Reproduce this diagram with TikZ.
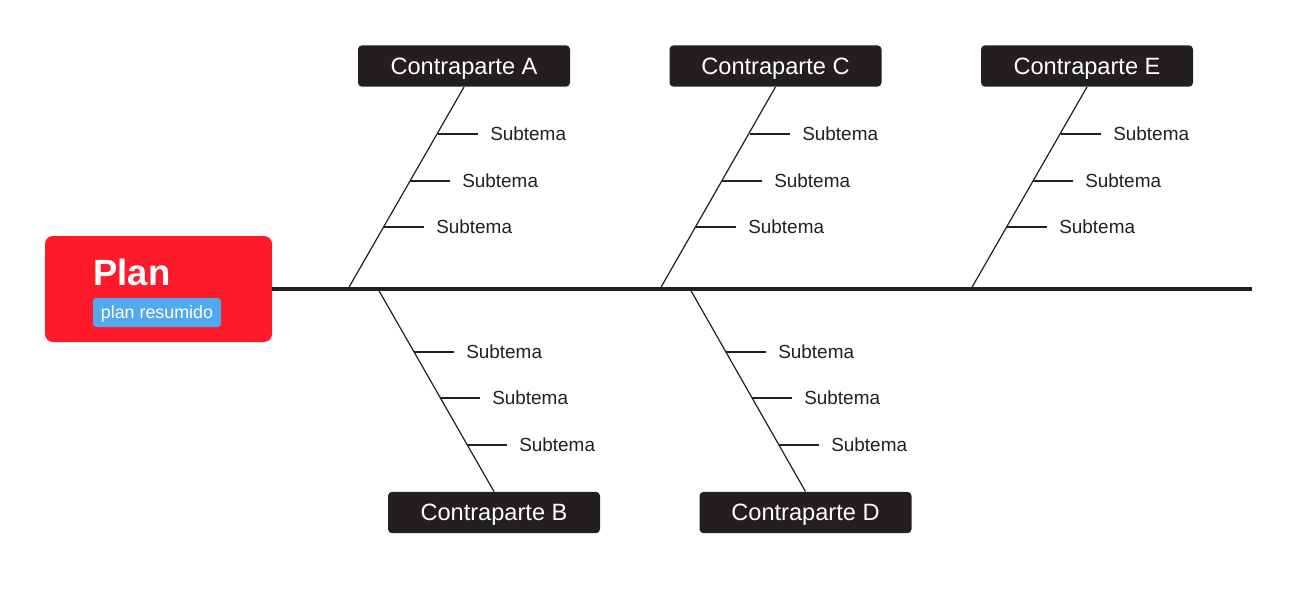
\documentclass[tikz,border=0pt]{standalone}
\usepackage{fontspec}
\setmainfont{Liberation Sans}
\usetikzlibrary{calc}
\definecolor{planred}{HTML}{FF1A2B}
\definecolor{planblue}{HTML}{52A9EE}
\definecolor{boxdark}{HTML}{231F20}
\tikzset{
  cbox/.style={fill=boxdark, rounded corners=3pt, text=white, minimum width=159pt, minimum height=31pt, inner sep=0pt, text height=12.7pt, text depth=0pt, font=\fontsize{17.7}{20}\selectfont},
  sub/.style={anchor=west, inner xsep=9pt, inner ysep=0pt, text height=10.2pt, text depth=0pt, text=boxdark, font=\fontsize{14.2}{16}\selectfont},
  bone/.style={draw=boxdark, line width=0.9pt},
  tick/.style={draw=boxdark, line width=0.9pt},
  spine/.style={draw=boxdark, line width=2.3pt}
}
\begin{document}
\begin{tikzpicture}[x=0.75pt,y=-0.75pt]
\useasboundingbox (0,0) rectangle (1298,594);
% head
\node[fill=planred, rounded corners=6pt, minimum width=170.25pt, minimum height=79.5pt, inner sep=0pt] (plan) at (158.5,289) {};
\node[anchor=base west, inner sep=0pt, text=white, font=\bfseries\fontsize{27.4}{30}\selectfont] (plantitle) at (93,285) {Plan};
\node[fill=planblue, rounded corners=2.5pt, minimum width=96pt, minimum height=21.75pt, inner sep=0pt, text height=9.6pt, text depth=0pt, text=white, font=\fontsize{13.4}{15}\selectfont] (plansub) at (157,312.5) {plan resumido};
% spine
\coordinate (spineend) at (1252,289);
\draw[spine] (plan.east) -- (spineend);
% boxes
\node[cbox] (A) at (464,66) {Contraparte A};
\node[cbox] (C) at (775.5,66) {Contraparte C};
\node[cbox] (E) at (1087,66) {Contraparte E};
\node[cbox] (B) at (494,512.5) {Contraparte B};
\node[cbox] (D) at (805.5,512.5) {Contraparte D};
% base points
\coordinate (a0) at (348,289);
\coordinate (c0) at (660,289);
\coordinate (e0) at (971,289);
\coordinate (b0) at (378,289);
\coordinate (d0) at (690,289);
\draw[bone] (a0) -- (A.south);
\draw[bone] (c0) -- (C.south);
\draw[bone] (e0) -- (E.south);
\draw[bone] (b0) -- (B.north);
\draw[bone] (d0) -- (D.north);
% upper branches ticks
\foreach \n/\dx in {a/0, c/312, e/623}{
  \coordinate (\n t1) at (437.5+\dx,134);
  \coordinate (\n t2) at (410+\dx,181);
  \coordinate (\n t3) at (383.5+\dx,227);
  \node[sub] (\n s1) at (478+\dx,134) {Subtema};
  \node[sub] (\n s2) at (450+\dx,181) {Subtema};
  \node[sub] (\n s3) at (424+\dx,227) {Subtema};
  \draw[tick] (\n t1) -- (\n s1.west);
  \draw[tick] (\n t2) -- (\n s2.west);
  \draw[tick] (\n t3) -- (\n s3.west);
}
% lower branches ticks
\foreach \n/\dx in {b/0, d/312}{
  \coordinate (\n t1) at (414+\dx,352);
  \coordinate (\n t2) at (440+\dx,398);
  \coordinate (\n t3) at (467+\dx,445);
  \node[sub] (\n s1) at (454+\dx,352) {Subtema};
  \node[sub] (\n s2) at (480+\dx,398) {Subtema};
  \node[sub] (\n s3) at (507+\dx,445) {Subtema};
  \draw[tick] (\n t1) -- (\n s1.west);
  \draw[tick] (\n t2) -- (\n s2.west);
  \draw[tick] (\n t3) -- (\n s3.west);
}
\end{tikzpicture}
\end{document}
